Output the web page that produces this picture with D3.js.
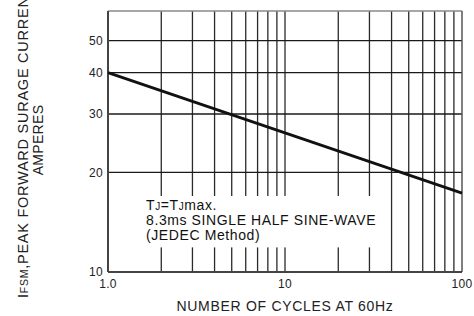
<!DOCTYPE html>
<html>
<head>
<meta charset="utf-8">
<script src="https://cdn.jsdelivr.net/npm/d3@7"></script>
<style>
  body { margin: 0; background: #fff; }
  svg { display: block; font-family: 'Liberation Sans', Arial, sans-serif; }
</style>
</head>
<body>
<div id="chart"></div>
<script>
// values
const cycles = [1, 10, 100];
const amps = [40, 26.3, 17.3];
const xTickVals = [1, 10, 100];
const xTickText = ['1.0', '10', '100'];
const yTickVals = [10, 20, 30, 40, 50];
const yGridVals = [20, 30, 40, 50];
const noteLines = ['T|J|=T|J|max.', '8.3ms SINGLE HALF SINE-WAVE', '(JEDEC Method)'];

const width = 474;
const height = 316;
const margin = {top: 11, right: 12, bottom: 44, left: 108};

const svg = d3.select('#chart')
  .append('svg')
  .attr('width', width)
  .attr('height', height);

const x = d3.scaleLog()
  .domain([1, 100])
  .range([margin.left, width - margin.right]);

const y = d3.scaleLog()
  .domain([10, 61.4])
  .range([height - margin.bottom, margin.top]);

// vertical grid (every minor decade step)
svg.append('g')
  .attr('class', 'xgrid')
  .selectAll('line')
  .data(x.ticks().filter(d => d > 1 && d < 100))
  .enter().append('line')
    .attr('x1', d => x(d))
    .attr('x2', d => x(d))
    .attr('y1', margin.top)
    .attr('y2', height - margin.bottom)
    .style('stroke', '#2a2a2a')
    .style('stroke-width', 1.3);

// horizontal grid
svg.append('g')
  .attr('class', 'ygrid')
  .selectAll('line')
  .data(yGridVals)
  .enter().append('line')
    .attr('x1', margin.left)
    .attr('x2', width - margin.right)
    .attr('y1', d => y(d))
    .attr('y2', d => y(d))
    .style('stroke', '#1a1a1a')
    .style('stroke-width', 1.3);

// frame
svg.append('line')
  .attr('x1', margin.left).attr('x2', width - margin.right)
  .attr('y1', margin.top).attr('y2', margin.top)
  .style('stroke', '#888').style('stroke-width', 1.5);
svg.append('line')
  .attr('x1', width - margin.right).attr('x2', width - margin.right)
  .attr('y1', margin.top).attr('y2', height - margin.bottom)
  .style('stroke', '#555').style('stroke-width', 1.5);

// note box + text
const note = svg.append('g').attr('class', 'note');
const box = note.append('rect').style('fill', '#fff');
const noteText = note.append('text')
  .attr('x', 146)
  .attr('y', 210)
  .style('font-size', '14px')
  .style('letter-spacing', '0.6px')
  .style('fill', '#111');

noteLines.forEach((ln, i) => {
  const parts = ln.split('|');
  parts.forEach((p, j) => {
    const ts = noteText.append('tspan').text(p);
    if (j === 0) ts.attr('x', 146).attr('dy', i === 0 ? 0 : 15.2);
    if (j % 2 === 1) ts.style('font-size', '10px');
  });
});

const bb = noteText.node().getBBox();
box.attr('x', bb.x - 20)
  .attr('y', bb.y - 1)
  .attr('width', bb.width + 30)
  .attr('height', bb.height + 5);

// axes lines (left + bottom)
svg.append('line')
  .attr('x1', margin.left).attr('x2', margin.left)
  .attr('y1', margin.top).attr('y2', height - margin.bottom)
  .style('stroke', '#444').style('stroke-width', 2);
svg.append('line')
  .attr('x1', margin.left).attr('x2', width - margin.right)
  .attr('y1', height - margin.bottom).attr('y2', height - margin.bottom)
  .style('stroke', '#444').style('stroke-width', 2);

// curve
const line = d3.line()
  .x((d, i) => x(cycles[i]))
  .y(d => y(d));

svg.append('path')
  .datum(amps)
  .attr('d', line)
  .style('fill', 'none')
  .style('stroke', '#111')
  .style('stroke-width', 2.8);

// tick labels
svg.append('g')
  .selectAll('text')
  .data(yTickVals)
  .enter().append('text')
    .attr('x', margin.left - 5)
    .attr('y', d => y(d))
    .attr('dy', '0.35em')
    .attr('text-anchor', 'end')
    .style('font-size', '12px')
    .style('letter-spacing', '0.3px')
    .style('fill', '#222')
    .text(d => d);

svg.append('g')
  .selectAll('text')
  .data(xTickVals)
  .enter().append('text')
    .attr('x', d => x(d))
    .attr('y', height - margin.bottom + 16)
    .attr('text-anchor', 'middle')
    .style('font-size', '12px')
    .style('letter-spacing', '0.3px')
    .style('fill', '#222')
    .text((d, i) => xTickText[i]);

// axis titles
svg.append('text')
  .attr('x', (margin.left + width - margin.right) / 2)
  .attr('y', 311)
  .attr('text-anchor', 'middle')
  .style('font-size', '14px')
  .style('letter-spacing', '0.7px')
  .style('fill', '#222')
  .text('NUMBER OF CYCLES AT 60Hz');

const ylab = svg.append('text')
  .attr('transform', 'translate(27.5,298) rotate(-90)')
  .attr('text-anchor', 'start')
  .style('font-size', '14.5px')
  .style('letter-spacing', '0.75px')
  .style('fill', '#222');
ylab.append('tspan').text('I');
ylab.append('tspan').style('font-size', '10.5px').text('FSM');
ylab.append('tspan').text(',PEAK FORWARD SURAGE CURRENT');

svg.append('text')
  .attr('transform', 'translate(42.5,140) rotate(-90)')
  .attr('text-anchor', 'middle')
  .style('font-size', '14px')
  .style('letter-spacing', '0.3px')
  .style('fill', '#222')
  .text('AMPERES');
</script>
</body>
</html>
